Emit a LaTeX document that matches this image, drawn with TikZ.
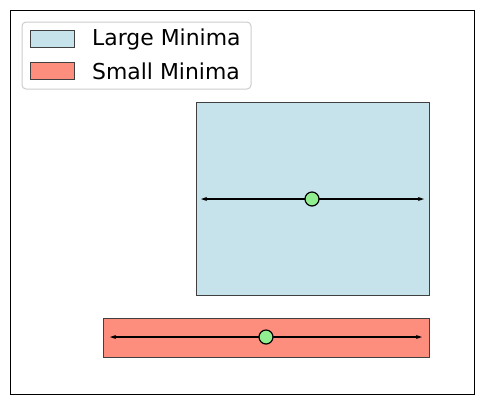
\documentclass[tikz,border=0pt]{standalone}
\usepackage{fontspec}
\setmainfont{DejaVu Sans}
\usetikzlibrary{arrows.meta}

\definecolor{largefill}{RGB}{198,227,236}
\definecolor{smallfill}{RGB}{253,142,125}
\definecolor{edgegray}{RGB}{64,64,64}
\definecolor{pointgreen}{RGB}{144,238,144}

\tikzset{
  minbox/.style={draw=edgegray, line width=1bp},
  span/.style={{Stealth[length=6bp,width=4bp]}-{Stealth[length=6bp,width=4bp]}, line width=1.5bp},
  centre/.style={circle, draw=black, fill=pointgreen, line width=1.2bp, minimum size=14bp, inner sep=0pt},
  legtext/.style={anchor=west, inner sep=0pt, font=\fontsize{22}{26}\selectfont}
}

\begin{document}
\begin{tikzpicture}[x=1bp, y=-1bp]
        % Canvas and axes frame
        \useasboundingbox (0,0) rectangle (484,405);
        \draw[line width=1bp] (10,10) rectangle (474,394);

        % Minima regions
        \draw[minbox, fill=largefill] (196,102) rectangle (429,295);
        \draw[minbox, fill=smallfill] (103,318) rectangle (429,357);

        % Large minimum: width and centre
        \coordinate (largeL) at (201,199);
        \coordinate (largeR) at (424,199);
        \draw[span] (largeL) -- (largeR);
        \node[centre] (largeC) at (312,199) {};

        % Small minimum: width and centre
        \coordinate (smallL) at (110,337);
        \coordinate (smallR) at (422,337);
        \draw[span] (smallL) -- (smallR);
        \node[centre] (smallC) at (266,337) {};

        % Legend
        \draw[draw=black!20, fill=white, rounded corners=4bp, line width=1bp] (22,22) rectangle (251,89);
        \draw[minbox, fill=largefill] (30,30) rectangle (74,47);
        \draw[minbox, fill=smallfill] (30,62) rectangle (74,79);
        \node[legtext] (largeT) at (92,39) {Large Minima};
        \node[legtext] (smallT) at (92,71) {Small Minima};
\end{tikzpicture}
\end{document}
